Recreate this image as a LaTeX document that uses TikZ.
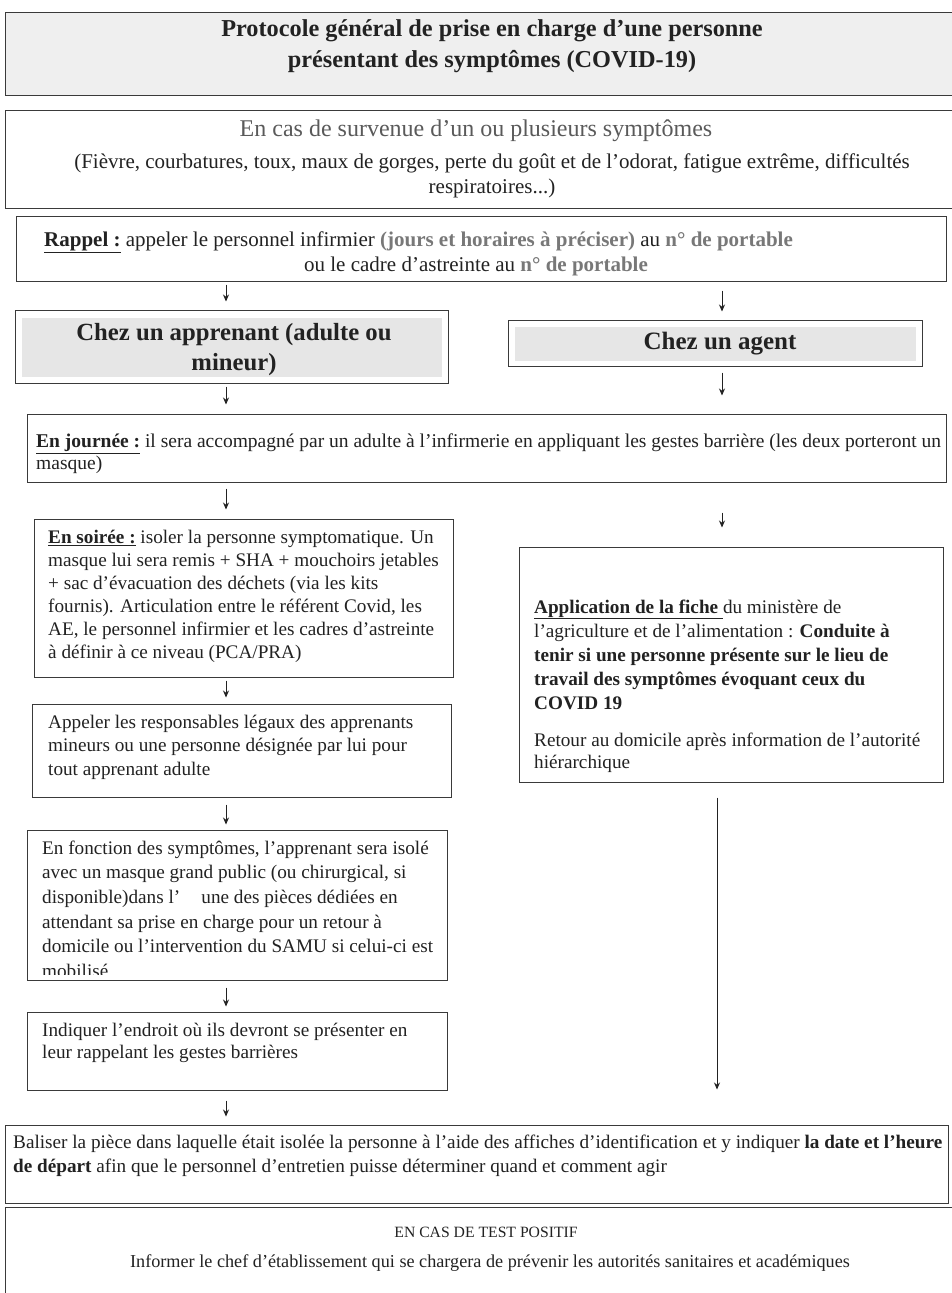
\documentclass[tikz,border=0pt]{standalone}
\usepackage{fontspec}
\setmainfont{Liberation Serif}
\usetikzlibrary{arrows.meta}
\definecolor{ink}{HTML}{222222}
\definecolor{frame}{HTML}{3A3A3A}
\definecolor{boxgrey}{HTML}{E6E6E6}
\definecolor{titlegrey}{HTML}{EFEFEF}
\definecolor{greyink}{HTML}{5A5A5A}
\definecolor{lightink}{HTML}{787878}
\newcommand\fsz[2]{\fontsize{#1}{#2}\selectfont}
\newcommand\tstrut{\rule{0pt}{1em}}
\begin{document}
\begin{tikzpicture}[x=1pt,y=1pt,
  box/.style={draw=frame, line width=1pt, inner sep=0pt},
  txt/.style={inner sep=0pt, text=ink},
  arr/.style={draw=ink, line width=0.9pt, -{Stealth[length=7pt,width=6pt]}}]
\useasboundingbox (0,0) rectangle (952,-1293);
\fill[white] (0,0) rectangle (952,-1293);
% column guides
\coordinate (colL) at (226,0);
\coordinate (colR) at (722,0);
\coordinate (colR2) at (717,0);
% boxes
\node[box, fill=titlegrey, minimum width=953pt, minimum height=83pt] (title) at (481.5,-53.5) {};
\node[box, minimum width=953pt, minimum height=98pt] (sympt) at (481.5,-159) {};
\node[box, minimum width=930pt, minimum height=65pt] (rappel) at (481,-248.5) {};
\node[box, minimum width=433pt, minimum height=73pt] (apprenant) at (231.5,-346.5) {};
\node[box, minimum width=414pt, minimum height=46pt] (agent) at (715,-343) {};
\fill[boxgrey] ([shift={(7pt,-8pt)}]apprenant.north west) rectangle ([shift={(-7pt,7pt)}]apprenant.south east);
\fill[boxgrey] ([shift={(7pt,-7pt)}]agent.north west) rectangle ([shift={(-7pt,6pt)}]agent.south east);
\node[box, minimum width=919pt, minimum height=68pt] (journee) at (486.5,-448) {};
\node[box, minimum width=419pt, minimum height=158pt] (soiree) at (243.5,-598) {};
\node[box, minimum width=424pt, minimum height=235pt] (appli) at (731,-664.5) {};
\node[box, minimum width=419pt, minimum height=93pt] (appeler) at (241.5,-750.5) {};
\node[box, minimum width=420pt, minimum height=150pt] (fonction) at (237,-905) {};
\node[box, minimum width=420pt, minimum height=78pt] (indiquer) at (237,-1051) {};
\node[box, minimum width=943pt, minimum height=78pt] (baliser) at (476.5,-1164) {};
\node[box, minimum width=955pt, minimum height=93pt] (encas) at (482.5,-1253.5) {};
% texts
\node[txt, anchor=north, align=center, font=\bfseries\fsz{24.3}{31}] (ttitle) at (492,-11.7)
  {\tstrut Protocole général de prise en charge d’une personne\\présentant des symptômes (COVID-19)};
\node[txt, anchor=north, text=greyink, font=\fsz{24}{25}] (tsympt1) at (476,-112)
  {\tstrut En cas de survenue d’un ou plusieurs symptômes};
\node[txt, anchor=north, align=center, font=\fsz{21}{25}] (tsympt2) at (492,-147)
  {\tstrut (Fièvre, courbatures, toux, maux de gorges, perte du goût et de l’odorat, fatigue extrême, difficultés\\respiratoires...)};
\node[txt, anchor=north west, font=\fsz{21}{22}] (trappel1) at (44,-225)
  {\tstrut\underline{\textbf{Rappel :}} appeler le personnel infirmier {\bfseries\color{lightink}(jours et horaires à préciser)} au {\bfseries\color{lightink}n° de portable}};
\node[txt, anchor=north, font=\fsz{21}{22}] (trappel2) at (476,-250)
  {\tstrut ou le cadre d’astreinte au {\bfseries\color{lightink}n° de portable}};
\node[txt, anchor=north, align=center, font=\bfseries\fsz{24.7}{30}] (tapprenant) at (234,-315.3)
  {\tstrut Chez un apprenant (adulte ou\\mineur)};
\node[txt, anchor=north, font=\bfseries\fsz{25}{30}] (tagent) at (720,-324)
  {\tstrut Chez un agent};
\node[txt, anchor=north west, align=left, font=\fsz{19.5}{22}] (tjournee) at (36,-428)
  {\tstrut\underline{\textbf{En journée :}} il sera accompagné par un adulte à l’infirmerie en appliquant les gestes barrière (les deux porteront un\\masque)};
\node[txt, anchor=north west, align=left, font=\fsz{19.2}{23}] (tsoiree) at (48,-523.8)
  {\tstrut\underline{\textbf{En soirée :}} isoler la personne symptomatique. Un\\masque lui sera remis + SHA + mouchoirs jetables\\+ sac d’évacuation des déchets (via les kits\\fournis). Articulation entre le référent Covid, les\\AE, le personnel infirmier et les cadres d’astreinte\\à définir à ce niveau (PCA/PRA)};
\node[txt, anchor=north west, align=left, font=\fsz{19.2}{24}] (tappli) at (534,-593.8)
  {\tstrut\underline{\textbf{Application de la fiche }}du ministère de\\l’agriculture et de l’alimentation : \textbf{Conduite à}\\\textbf{tenir si une personne présente sur le lieu de}\\\textbf{travail des symptômes évoquant ceux du}\\\textbf{COVID 19}\\[13pt]Retour au domicile après information de l’autorité\\[-1.5pt]hiérarchique};
\node[txt, anchor=north west, align=left, font=\fsz{19.2}{23.5}] (tappeler) at (48,-708.8)
  {\tstrut Appeler les responsables légaux des apprenants\\mineurs ou une personne désignée par lui pour\\tout apprenant adulte};
\begin{scope}
\clip (fonction.north west) rectangle ([yshift=6pt]fonction.south east);
\node[txt, anchor=north west, align=left, font=\fsz{19.2}{24.6}] (tfonction) at (42,-834.8)
  {\tstrut En fonction des symptômes, l’apprenant sera isolé\\avec un masque grand public (ou chirurgical, si\\disponible)dans l’\hspace{1.1em}une des pièces dédiées en\\attendant sa prise en charge pour un retour à\\domicile ou l’intervention du SAMU si celui-ci est\\mobilisé};
\end{scope}
\node[txt, anchor=north west, align=left, font=\fsz{19.2}{22}] (tindiquer) at (42,-1017)
  {\tstrut Indiquer l’endroit où ils devront se présenter en\\leur rappelant les gestes barrières};
\node[txt, anchor=north west, align=left, font=\fsz{19.2}{24}] (tbaliser) at (13,-1128.8)
  {\tstrut Baliser la pièce dans laquelle était isolée la personne à l’aide des affiches d’identification et y indiquer \textbf{la date et l’heure}\\\textbf{de départ} afin que le personnel d’entretien puisse déterminer quand et comment agir};
\node[txt, anchor=north, font=\fsz{15.7}{20}] (tencas1) at (486,-1221.3)
  {\tstrut EN CAS DE TEST POSITIF};
\node[txt, anchor=north, font=\fsz{18.2}{22}] (tencas2) at (490,-1248.8)
  {\tstrut Informer le chef d’établissement qui se chargera de prévenir les autorités sanitaires et académiques};
% connectors
\draw[arr, shorten <=3pt, shorten >=8pt] (rappel.south -| colL) -- (apprenant.north -| colL);
\draw[arr, shorten <=9pt, shorten >=8pt] (rappel.south -| colR) -- (agent.north -| colR);
\draw[arr, shorten <=3pt, shorten >=9pt] (apprenant.south -| colL) -- (journee.north -| colL);
\draw[arr, shorten <=6pt, shorten >=18pt] (agent.south -| colR) -- (journee.north -| colR);
\draw[arr, shorten <=6pt, shorten >=9pt] (journee.south -| colL) -- (soiree.north -| colL);
\draw[arr, shorten <=30pt, shorten >=19pt] (journee.south -| colR) -- (appli.north -| colR);
\draw[arr, shorten <=3pt, shorten >=6pt] (soiree.south -| colL) -- (appeler.north -| colL);
\draw[arr, shorten <=7pt, shorten >=5pt] (appeler.south -| colL) -- (fonction.north -| colL);
\draw[arr, shorten <=7pt, shorten >=5pt] (fonction.south -| colL) -- (indiquer.north -| colL);
\draw[arr, shorten <=10pt, shorten >=8pt] (indiquer.south -| colL) -- (baliser.north -| colL);
\draw[arr, shorten <=15pt, shorten >=35pt] (appli.south -| colR2) -- (baliser.north -| colR2);
\end{tikzpicture}
\end{document}
